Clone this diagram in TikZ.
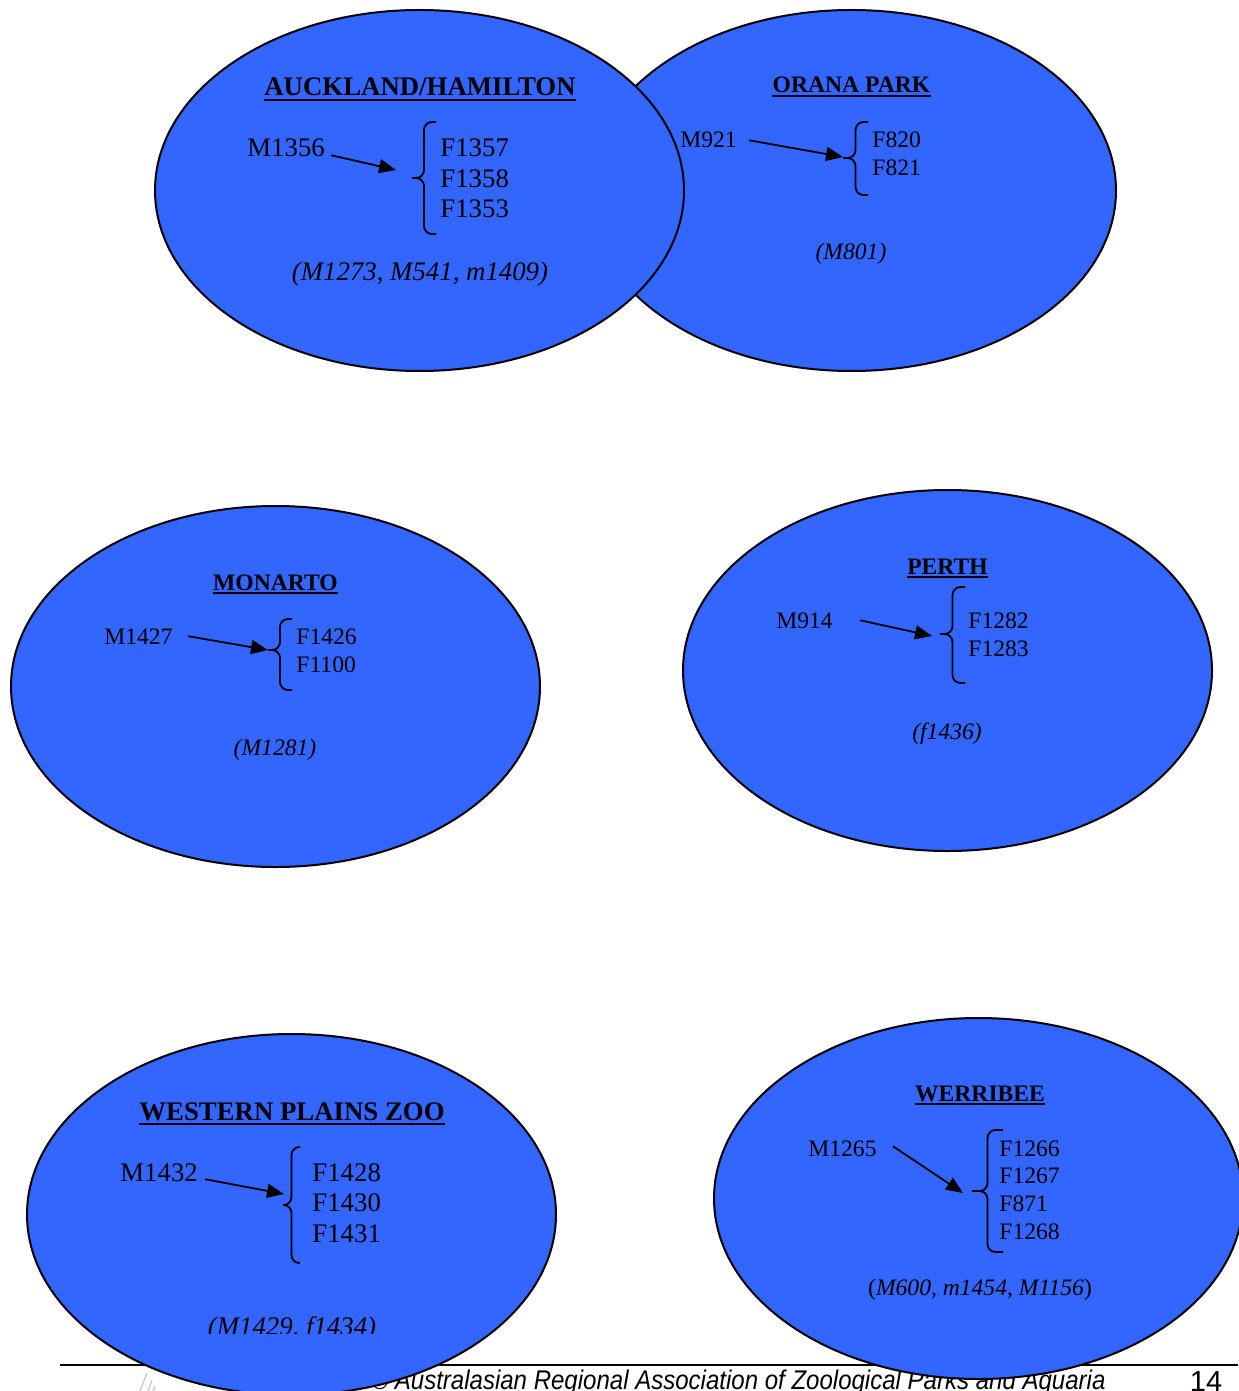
\documentclass[tikz,border=0pt]{standalone}
\usepackage{fontspec}
\setmainfont{Liberation Serif}
\setsansfont{Liberation Sans}
\usetikzlibrary{arrows.meta}
\definecolor{zoneblue}{RGB}{51,102,255}

\begin{document}
\begin{tikzpicture}[x=0.5pt,y=-0.5pt,
 zone/.style={draw,line width=1pt,fill=zoneblue},
 lg/.style={font=\fontsize{13.4}{16}\selectfont},
 sm/.style={font=\fontsize{11.8}{14}\selectfont},
 txt/.style={inner sep=0pt,anchor=base west},
 mid/.style={inner sep=0pt,anchor=base},
 arr/.style={line width=0.9pt,-{Triangle[length=8.5pt,width=7pt]}},
 brc/.style={line width=0.9pt,rounded corners=4pt},
 uline/.style={line width=1pt}]
\useasboundingbox (0,0) rectangle (1238,1391);
% footer
\draw[line width=1pt] (60,1365) -- (1238,1365);
\draw[gray!45,line width=0.6pt] (147,1373) -- (140,1391);
\draw[gray!45,line width=0.6pt] (152,1380) -- (148,1391);
\draw[gray!45,line width=0.6pt] (155,1386) -- (153,1391);
\node[mid,font=\fontsize{13.5}{16}\selectfont\sffamily\itshape] (copy) at (738,1389)
 {\scalebox{0.89}[1]{\textcopyright{} Australasian Regional Association of Zoological Parks and Aquaria}};
\node[mid,font=\fontsize{14.5}{16}\selectfont\sffamily] (page) at (1206,1391) {14};
% zones
\foreach \cx/\cy in {851.5/190.5,419.5/190.5,275.5/686.5,947.5/670.5,291.5/1214.5,978.5/1198.5}
 \draw[zone] (\cx,\cy) ellipse [x radius=264.5,y radius=180.5];
% auckland/hamilton
\node[mid,lg] (aucktitle) at (420,96) {\textbf{AUCKLAND/HAMILTON}};
\draw[uline] ([yshift=-1.8pt]aucktitle.base west) -- ([yshift=-1.8pt]aucktitle.base east);
\node[txt,lg] (auckm) at (247,157) {M1356};
\foreach \f [count=\i] in {F1357,F1358,F1353}
 \node[txt,lg] (auckf\i) at (440,157+30.5*\i-30.5) {\f};
\coordinate (aucktip) at (396,170);
\draw[arr] ([shift={(3pt,-3.5pt)}]auckm.east) -- (aucktip);
\draw[brc] (436,122) -- (424,122) -- (424,178) -- (412,178);
\draw[brc] (412,178) -- (424,178) -- (424,234) -- (436,234);
\node[mid,lg] (aucknote) at (420,280) {\textit{(M1273, M541, m1409)}};
% orana park
\node[mid,sm] (oranatitle) at (851.5,93) {\textbf{ORANA PARK}};
\draw[uline] ([yshift=-1.6pt]oranatitle.base west) -- ([yshift=-1.6pt]oranatitle.base east);
\node[txt,sm] (oranam) at (680,148) {M921};
\foreach \f [count=\i] in {F820,F821}
 \node[txt,sm] (oranaf\i) at (872,148+28*\i-28) {\f};
\coordinate (oranatip) at (843,157);
\draw[arr] ([xshift=6pt]oranam.east) -- (oranatip);
\draw[brc] (868,122) -- (855.5,122) -- (855.5,158) -- (843,158);
\draw[brc] (843,158) -- (855.5,158) -- (855.5,195) -- (868,195);
\node[mid,sm] (orananote) at (851,259) {\textit{(M801)}};
% monarto
\node[mid,sm] (montitle) at (275.5,590) {\textbf{MONARTO}};
\draw[uline] ([yshift=-1.6pt]montitle.base west) -- ([yshift=-1.6pt]montitle.base east);
\node[txt,sm] (monm) at (104,644) {M1427};
\foreach \f [count=\i] in {F1426,F1100}
 \node[txt,sm] (monf\i) at (296,644+28*\i-28) {\f};
\coordinate (montip) at (268,650);
\draw[arr] ([xshift=7.5pt]monm.east) -- (montip);
\draw[brc] (292,619) -- (280,619) -- (280,650) -- (268,650);
\draw[brc] (268,650) -- (280,650) -- (280,690) -- (292,690);
\node[mid,sm] (monnote) at (275,755) {\textit{(M1281)}};
% perth
\node[mid,sm] (perthtitle) at (947.5,574) {\textbf{PERTH}};
\draw[uline] ([yshift=-1.6pt]perthtitle.base west) -- ([yshift=-1.6pt]perthtitle.base east);
\node[txt,sm] (perthm) at (776,628) {M914};
\foreach \f [count=\i] in {F1282,F1283}
 \node[txt,sm] (perthf\i) at (968,628+28*\i-28) {\f};
\coordinate (perthtip) at (932,636);
\draw[arr] ([xshift=13.5pt]perthm.east) -- (perthtip);
\draw[brc] (965,587) -- (952.5,587) -- (952.5,634) -- (940,634);
\draw[brc] (940,634) -- (952.5,634) -- (952.5,683) -- (965,683);
\node[mid,sm] (perthnote) at (947,739) {\textit{(f1436)}};
% western plains zoo
\node[mid,lg] (wpztitle) at (292,1120) {\textbf{WESTERN PLAINS ZOO}};
\draw[uline] ([yshift=-1.8pt]wpztitle.base west) -- ([yshift=-1.8pt]wpztitle.base east);
\node[txt,lg] (wpzm) at (120,1181) {M1432};
\foreach \f [count=\i] in {F1428,F1430,F1431}
 \node[txt,lg] (wpzf\i) at (312,1181+30.5*\i-30.5) {\f};
\coordinate (wpztip) at (284,1194);
\draw[arr] ([shift={(3.5pt,-3.5pt)}]wpzm.east) -- (wpztip);
\draw[brc] (300,1147) -- (291.5,1147) -- (291.5,1205) -- (283,1205);
\draw[brc] (283,1205) -- (291.5,1205) -- (291.5,1263) -- (300,1263);
\begin{scope}
 \clip (0,0) rectangle (1238,1333);
 \node[mid,lg] (wpznote) at (292,1335) {\textit{(M1429, f1434)}};
\end{scope}
% werribee
\node[mid,sm] (wertitle) at (980,1101) {\textbf{WERRIBEE}};
\draw[uline] ([yshift=-1.6pt]wertitle.base west) -- ([yshift=-1.6pt]wertitle.base east);
\node[txt,sm] (werm) at (808,1156) {M1265};
\foreach \f [count=\i] in {F1266,F1267,F871,F1268}
 \node[txt,sm] (werf\i) at (999,1156+27.7*\i-27.7) {\f};
\coordinate (wertip) at (963,1193);
\draw[arr] ([shift={(8pt,1pt)}]werm.east) -- (wertip);
\draw[brc] (1003,1130) -- (987.5,1130) -- (987.5,1191) -- (972,1191);
\draw[brc] (972,1191) -- (987.5,1191) -- (987.5,1252) -- (1003,1252);
\node[mid,sm] (wernote) at (980,1295) {(\textit{M600, m1454, M1156})};
\end{tikzpicture}
\end{document}
